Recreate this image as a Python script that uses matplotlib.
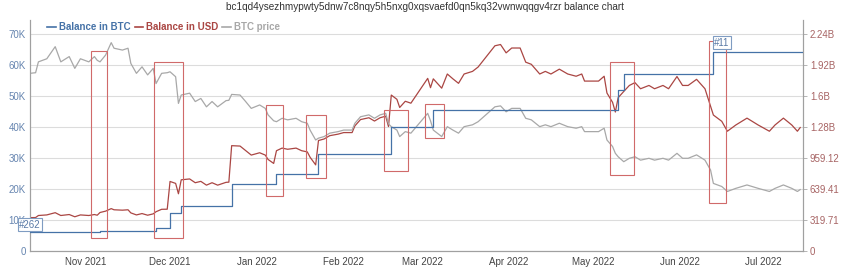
import matplotlib
matplotlib.use("Agg")
import matplotlib.pyplot as plt
import matplotlib.dates as mdates
from matplotlib.patches import Rectangle
from matplotlib.lines import Line2D
import pandas as pd

plt.rcParams['font.family'] = ['Liberation Sans', 'DejaVu Sans']

title = "bc1qd4ysezhmypwty5dnw7c8nqy5h5nxg0xqsvaefd0qn5kq32vwnwqqgv4rzr balance chart"

# sampled dates for BTC price (thousand USD) and balance in USD (million USD)
dates = ["2021-10-12", "2021-10-14", "2021-10-15", "2021-10-18", "2021-10-21", "2021-10-23",
         "2021-10-26", "2021-10-28", "2021-10-30", "2021-11-02", "2021-11-04", "2021-11-05",
         "2021-11-06", "2021-11-08", "2021-11-10", "2021-11-11", "2021-11-14", "2021-11-16",
         "2021-11-17", "2021-11-19", "2021-11-21", "2021-11-23", "2021-11-25", "2021-11-26",
         "2021-11-28", "2021-11-30", "2021-12-01", "2021-12-03", "2021-12-04", "2021-12-05",
         "2021-12-08", "2021-12-10", "2021-12-12", "2021-12-14", "2021-12-16", "2021-12-18",
         "2021-12-21", "2021-12-22", "2021-12-23", "2021-12-26", "2021-12-28", "2021-12-30",
         "2022-01-02", "2022-01-04", "2022-01-05", "2022-01-07", "2022-01-08", "2022-01-10",
         "2022-01-12", "2022-01-15", "2022-01-17", "2022-01-19", "2022-01-20", "2022-01-22",
         "2022-01-23", "2022-01-25", "2022-01-27", "2022-01-30", "2022-02-01", "2022-02-04",
         "2022-02-05", "2022-02-07", "2022-02-10", "2022-02-12", "2022-02-14", "2022-02-16",
         "2022-02-17", "2022-02-18", "2022-02-20", "2022-02-21", "2022-02-23", "2022-02-25",
         "2022-03-01", "2022-03-03", "2022-03-04", "2022-03-05", "2022-03-08", "2022-03-10",
         "2022-03-12", "2022-03-14", "2022-03-16", "2022-03-19", "2022-03-21", "2022-03-23",
         "2022-03-25", "2022-03-27", "2022-03-29", "2022-03-31", "2022-04-02", "2022-04-05",
         "2022-04-07", "2022-04-09", "2022-04-12", "2022-04-14", "2022-04-16", "2022-04-19",
         "2022-04-22", "2022-04-25", "2022-04-27", "2022-04-28", "2022-05-01", "2022-05-03",
         "2022-05-05", "2022-05-06", "2022-05-08", "2022-05-09", "2022-05-10", "2022-05-12",
         "2022-05-14", "2022-05-16", "2022-05-18", "2022-05-21", "2022-05-23", "2022-05-26",
         "2022-05-28", "2022-05-31", "2022-06-02", "2022-06-04", "2022-06-07", "2022-06-10",
         "2022-06-12", "2022-06-13", "2022-06-16", "2022-06-18", "2022-06-21", "2022-06-25",
         "2022-06-29", "2022-07-03", "2022-07-05", "2022-07-08", "2022-07-11", "2022-07-13",
         "2022-07-14"]

btc_price_k = [57.3, 57.5, 61.0, 62.0, 65.9, 61.0, 62.7, 58.9, 62.0, 61.0, 62.7, 61.5,
               61.0, 63.2, 67.2, 65.4, 64.8, 65.4, 60.5, 57.3, 59.4, 56.8, 58.9, 54.0,
               57.3, 57.5, 57.8, 56.2, 47.6, 50.3, 50.9, 48.2, 49.2, 46.5, 48.2, 46.5,
               48.5, 48.6, 50.5, 50.3, 48.2, 46.0, 47.1, 46.0, 43.9, 42.0, 41.7, 42.8,
               42.3, 42.8, 41.7, 41.2, 39.0, 35.8, 36.4, 36.9, 38.0, 38.5, 39.0, 39.0,
               41.2, 43.3, 43.9, 42.8, 43.9, 44.4, 41.0, 40.1, 39.0, 36.9, 38.5, 38.0,
               42.3, 44.4, 42.0, 39.0, 36.9, 40.1, 39.0, 38.0, 40.1, 40.7, 41.7, 43.3,
               44.9, 46.5, 46.8, 44.9, 46.0, 46.0, 42.8, 42.3, 40.1, 40.7, 40.1, 41.2,
               40.1, 39.6, 40.1, 38.5, 38.5, 38.5, 39.6, 35.8, 33.7, 31.5, 30.4, 28.8,
               29.9, 30.4, 29.3, 29.9, 29.3, 29.9, 29.3, 31.5, 29.9, 29.9, 31.0, 29.3,
               26.1, 21.8, 20.8, 19.2, 20.2, 21.3, 20.2, 19.2, 20.2, 21.3, 20.2, 19.2,
               19.8]

balance_usd_m = [344, 345, 366, 372, 395, 366, 376, 353, 372, 366, 376, 369,
                 397, 411, 437, 425, 421, 425, 393, 372, 386, 369, 383, 405,
                 430, 431, 717, 697, 590, 734, 743, 704, 718, 679, 704, 679,
                 708, 710, 1086, 1082, 1036, 989, 1013, 989, 944, 903, 1034, 1061,
                 1049, 1061, 1034, 1022, 967, 888, 1139, 1155, 1189, 1205, 1221, 1221,
                 1290, 1355, 1374, 1340, 1374, 1390, 1283, 1608, 1564, 1480, 1544, 1524,
                 1696, 1780, 1684, 1775, 1679, 1825, 1775, 1729, 1825, 1852, 1897, 1970,
                 2043, 2116, 2129, 2043, 2093, 2093, 1947, 1925, 1825, 1852, 1825, 1875,
                 1825, 1802, 1825, 1752, 1752, 1752, 1802, 1629, 1533, 1433, 1581, 1645,
                 1707, 1736, 1673, 1707, 1673, 1707, 1673, 1799, 1707, 1707, 1770, 1673,
                 1490, 1402, 1337, 1235, 1299, 1370, 1299, 1235, 1299, 1370, 1299, 1235,
                 1273]

# balance in BTC (thousand BTC), step changes
step_dates = ["2021-10-12", "2021-11-06", "2021-11-26", "2021-12-01", "2021-12-05",
              "2021-12-23", "2022-01-08", "2022-01-23", "2022-02-18", "2022-03-05",
              "2022-05-10", "2022-05-12", "2022-06-13", "2022-07-15"]
balance_btc_k = [6.0, 6.5, 7.5, 12.4, 14.6, 21.5, 24.8, 31.3, 40.1, 45.5, 52.0, 57.1, 64.3, 64.3]

# highlighted boxes (date range, value range in thousand BTC-axis units)
box_start = ["2021-11-02 20:00", "2021-11-25 08:00", "2022-01-04 05:00", "2022-01-18 12:00",
             "2022-02-15 08:00", "2022-03-02 03:00", "2022-05-07 03:00", "2022-06-11 10:00"]
box_end = ["2021-11-08 12:00", "2021-12-05 14:00", "2022-01-10 08:00", "2022-01-25 14:00",
           "2022-02-23 22:00", "2022-03-08 22:00", "2022-05-15 14:00", "2022-06-17 10:00"]
box_low = [4.2, 4.2, 17.7, 23.5, 25.8, 36.5, 24.5, 15.5]
box_high = [64.5, 61.0, 47.1, 43.9, 45.5, 47.4, 61.0, 67.7]

flag_text = ["#262", "#11"]
flag_date = ["2021-10-12", "2022-06-16"]
flag_val = [8.4, 67.1]

left_ticks = [0, 10, 20, 30, 40, 50, 60, 70]
left_labels = ["0", "10K", "20K", "30K", "40K", "50K", "60K", "70K"]
right_ticks = [0, 319.71, 639.41, 959.12, 1278.84, 1598.55, 1918.26, 2237.97]
right_labels = ["0", "319.71", "639.41", "959.12", "1.28B", "1.6B", "1.92B", "2.24B"]
month_ticks = ["2021-11-01", "2021-12-01", "2022-01-01", "2022-02-01", "2022-03-01",
               "2022-04-01", "2022-05-01", "2022-06-01", "2022-07-01"]
month_labels = ["Nov 2021", "Dec 2021", "Jan 2022", "Feb 2022", "Mar 2022",
                "Apr 2022", "May 2022", "Jun 2022", "Jul 2022"]

C_BTC = "#4572A7"
C_USD = "#AA4643"
C_PRICE = "#a8a8a8"
C_BOX = "#d06a6a"

d = pd.to_datetime(dates)
sd = pd.to_datetime(step_dates)

fig = plt.figure(figsize=(8.5, 2.7), dpi=100)
ax = fig.add_axes([30 / 850, 19 / 270, 773 / 850, 231 / 270])
ax2 = ax.twinx()

ymax = 74.5
ratio = 31.971
ax.set_ylim(0, ymax)
ax2.set_ylim(0, ymax * ratio)
ax.set_xlim(pd.Timestamp("2021-10-12"), pd.Timestamp("2022-07-15"))

# grid on ax2 (drawn below ax)
ax2.set_yticks(right_ticks)
ax2.set_yticklabels(right_labels)
ax2.grid(True, axis='y', color='#dcdcdc', lw=0.8)
ax2.xaxis.grid(True, color='#dcdcdc', lw=0.8)

ax.set_zorder(ax2.get_zorder() + 1)
ax.patch.set_visible(False)

ax2.plot(d, balance_usd_m, color=C_USD, lw=0.9, zorder=3)
ax.plot(d, btc_price_k, color=C_PRICE, lw=0.9, zorder=2)
ax.plot(sd, balance_btc_k, color=C_BTC, lw=0.9, drawstyle='steps-post', zorder=3)

for s, e, lo, hi in zip(box_start, box_end, box_low, box_high):
    x0 = mdates.date2num(pd.Timestamp(s))
    x1 = mdates.date2num(pd.Timestamp(e))
    ax.add_patch(Rectangle((x0, lo), x1 - x0, hi - lo, fill=False, ec=C_BOX, lw=0.8, zorder=4))

for t, fd, fv in zip(flag_text, flag_date, flag_val):
    ax.text(pd.Timestamp(fd), fv, t, ha='center', va='center', fontsize=7, color='#5a7aa6',
            zorder=10, clip_on=False,
            bbox=dict(boxstyle='square,pad=0.15', fc='white', ec='#7f9cc2', lw=0.8))

ax.set_yticks(left_ticks)
ax.set_yticklabels(left_labels)
ax.set_xticks(pd.to_datetime(month_ticks))
ax.set_xticklabels(month_labels)

ax.tick_params(axis='y', length=0, pad=3, labelsize=7, labelcolor='#6685b0')
ax.tick_params(axis='x', length=0, pad=4, labelsize=7, labelcolor='#444444')
ax2.tick_params(axis='y', length=3, width=0.6, color='#aaaaaa', pad=2, labelsize=7, labelcolor='#a76464')

for a in (ax, ax2):
    a.spines['top'].set_visible(False)
    for sp in ('left', 'bottom', 'right'):
        a.spines[sp].set_color('#a0a0a0')
        a.spines[sp].set_linewidth(0.8)

handles = [Line2D([0], [0], color=C_BTC, lw=1.2),
           Line2D([0], [0], color=C_USD, lw=1.2),
           Line2D([0], [0], color=C_PRICE, lw=1.2)]
leg = fig.legend(handles, ["Balance in BTC", "Balance in USD", "BTC price"], loc='center left',
                 bbox_to_anchor=(46 / 850, 1 - 27 / 270), ncol=3, frameon=True, fontsize=7,
                 handlelength=0.9, handletextpad=0.3, columnspacing=0.4, borderpad=0.15,
                 borderaxespad=0)
leg.get_frame().set_facecolor('white')
leg.get_frame().set_edgecolor('none')
leg.get_frame().set_alpha(1)
for txt, c in zip(leg.get_texts(), [C_BTC, C_USD, C_PRICE]):
    txt.set_color(c)
    txt.set_fontweight('bold')

fig.text(0.5, 1 - 7 / 270, title, ha='center', va='center', fontsize=7.2, color='#333333')

fig.savefig("out.png", dpi=100, facecolor='white')
